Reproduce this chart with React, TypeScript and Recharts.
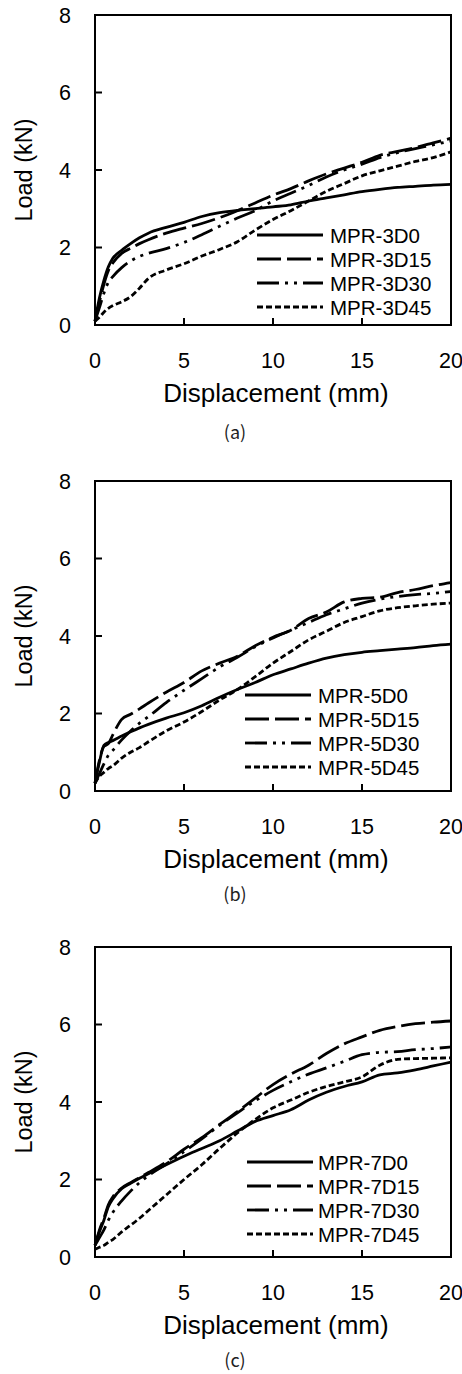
import { LineChart, Line, XAxis, YAxis, ReferenceArea, Legend } from 'recharts';

// displacement grid (mm) shared by every curve
const DISP = [0, 0.25, 0.5, 0.75, 1, 1.5, 2, 2.5, 3, 4, 5, 6, 7, 8, 9, 10, 11, 12, 13, 14, 15, 16, 17, 18, 19, 20];
const X_TICKS = [0, 5, 10, 15, 20];
const Y_TICKS = [0, 2, 4, 6, 8];

// loads (kN)
const LOAD_3D0 = [0.1, 0.7, 1.15, 1.5, 1.72, 1.93, 2.1, 2.25, 2.37, 2.52, 2.65, 2.8, 2.9, 2.96, 3.0, 3.05, 3.1, 3.2, 3.28, 3.36, 3.44, 3.5, 3.55, 3.58, 3.61, 3.63];
const LOAD_3D15 = [0.1, 0.6, 1.05, 1.4, 1.6, 1.85, 1.98, 2.1, 2.2, 2.37, 2.5, 2.62, 2.77, 2.95, 3.15, 3.35, 3.52, 3.72, 3.9, 4.05, 4.2, 4.38, 4.48, 4.58, 4.7, 4.82];
const LOAD_3D30 = [0.1, 0.45, 0.82, 1.1, 1.25, 1.48, 1.65, 1.77, 1.85, 1.97, 2.13, 2.33, 2.55, 2.76, 2.95, 3.2, 3.4, 3.6, 3.82, 4.0, 4.15, 4.32, 4.45, 4.55, 4.65, 4.75];
const LOAD_3D45 = [0.1, 0.2, 0.33, 0.43, 0.5, 0.6, 0.73, 0.95, 1.2, 1.42, 1.58, 1.78, 1.95, 2.15, 2.45, 2.72, 2.95, 3.2, 3.45, 3.65, 3.85, 3.98, 4.1, 4.22, 4.32, 4.47];

const LOAD_5D0 = [0.2, 0.75, 1.18, 1.25, 1.3, 1.42, 1.53, 1.63, 1.72, 1.88, 2.02, 2.2, 2.42, 2.62, 2.8, 3.0, 3.15, 3.3, 3.43, 3.52, 3.58, 3.62, 3.66, 3.7, 3.75, 3.79];
const LOAD_5D15 = [0.2, 0.8, 1.15, 1.22, 1.45, 1.85, 1.98, 2.12, 2.27, 2.55, 2.8, 3.1, 3.3, 3.48, 3.75, 3.97, 4.15, 4.45, 4.62, 4.88, 4.97, 5.0, 5.12, 5.2, 5.3, 5.38];
const LOAD_5D30 = [0.2, 0.45, 0.7, 0.92, 1.05, 1.32, 1.55, 1.75, 1.92, 2.28, 2.6, 2.9, 3.2, 3.45, 3.72, 3.95, 4.15, 4.35, 4.55, 4.7, 4.85, 4.95, 5.02, 5.07, 5.1, 5.15];
const LOAD_5D45 = [0.2, 0.38, 0.48, 0.58, 0.65, 0.85, 1.0, 1.12, 1.27, 1.55, 1.78, 2.05, 2.35, 2.62, 2.95, 3.3, 3.6, 3.9, 4.12, 4.35, 4.5, 4.65, 4.73, 4.78, 4.82, 4.85];

const LOAD_7D0 = [0.3, 0.65, 0.95, 1.3, 1.5, 1.76, 1.9, 2.03, 2.15, 2.38, 2.6, 2.8, 3.0, 3.25, 3.5, 3.65, 3.8, 4.05, 4.25, 4.4, 4.52, 4.7, 4.75, 4.83, 4.93, 5.03];
const LOAD_7D15 = [0.3, 0.7, 1.0, 1.35, 1.55, 1.78, 1.92, 2.05, 2.18, 2.45, 2.78, 3.08, 3.42, 3.75, 4.1, 4.45, 4.72, 4.95, 5.25, 5.5, 5.68, 5.85, 5.95, 6.02, 6.06, 6.09];
const LOAD_7D30 = [0.3, 0.5, 0.7, 0.95, 1.15, 1.45, 1.7, 1.92, 2.1, 2.4, 2.72, 3.05, 3.4, 3.72, 4.03, 4.3, 4.52, 4.72, 4.88, 5.05, 5.22, 5.28, 5.3, 5.35, 5.38, 5.42];
const LOAD_7D45 = [0.2, 0.25, 0.3, 0.38, 0.45, 0.65, 0.82, 1.0, 1.2, 1.6, 2.0, 2.38, 2.8, 3.2, 3.55, 3.85, 4.05, 4.25, 4.4, 4.52, 4.65, 4.95, 5.1, 5.12, 5.13, 5.14];

const SERIES_A = ['MPR-3D0', 'MPR-3D15', 'MPR-3D30', 'MPR-3D45'];
const SERIES_B = ['MPR-5D0', 'MPR-5D15', 'MPR-5D30', 'MPR-5D45'];
const SERIES_C = ['MPR-7D0', 'MPR-7D15', 'MPR-7D30', 'MPR-7D45'];

// solid, long dash, dash-dot-dot, short dash
const DASHES = ['0', '24 6', '22 6 3 6 3 6', '6 3'];

const FONT = '"Liberation Sans", Arial, sans-serif';
const W = 462;
const H = 458;
const PLOT_TOP = 15;
const PLOT_BOTTOM = 325;
const PLOT_LEFT = 95;
const PLOT_RIGHT = 451;
const LINE_W = 2.8;

function buildRows(loads: number[][]) {
  return DISP.map((d, i) => ({ d, s0: loads[0][i], s1: loads[1][i], s2: loads[2][i], s3: loads[3][i] }));
}

interface PanelProps {
  top: number;
  names: string[];
  loads: number[][];
  caption: string;
  captionDy: number;
  legendX: number;
  legendY: number;
  textX: number;
}

function LegendBox({ names, textX }: { names: string[]; textX: number }) {
  return (
    <svg width={200} height={100} style={{ display: 'block' }}>
      {names.map((n, i) => (
        <g key={n}>
          <line x1={0} x2={66} y1={12 + i * 24} y2={12 + i * 24} stroke="#000" strokeWidth={LINE_W} strokeDasharray={DASHES[i]} />
          <text x={textX} y={12 + i * 24 + 7.5} fontSize={20.5} fontFamily={FONT} fill="#000">{n}</text>
        </g>
      ))}
    </svg>
  );
}

function Panel({ top, names, loads, caption, captionDy, legendX, legendY, textX }: PanelProps) {
  const rows = buildRows(loads);
  const midX = (PLOT_LEFT + PLOT_RIGHT) / 2 + 3;
  return (
    <div style={{ position: 'absolute', left: 0, top }}>
      <LineChart width={W} height={H} data={rows} margin={{ top: PLOT_TOP, right: W - PLOT_RIGHT, bottom: 0, left: 0 }}>
        <XAxis
          dataKey="d"
          type="number"
          domain={[0, 20]}
          ticks={X_TICKS}
          height={H - PLOT_BOTTOM}
          axisLine={{ stroke: '#000', strokeWidth: 2 }}
          tickLine={{ stroke: '#000', strokeWidth: 2 }}
          tickSize={-7}
          tickMargin={35}
          tick={{ fill: '#000', fontSize: 21.5, fontFamily: FONT }}
          label={{
            content: () => (
              <g>
                <text x={midX} y={PLOT_BOTTOM + 77} textAnchor="middle" fontSize={26} fontFamily={FONT} fill="#000">
                  Displacement (mm)
                </text>
                <text x={235} y={PLOT_BOTTOM + captionDy} textAnchor="middle" fontSize={18} fontFamily='"Noto Sans CJK KR", "Noto Sans", sans-serif' fill="#222">
                  {caption}
                </text>
              </g>
            ),
          }}
        />
        <YAxis
          type="number"
          domain={[0, 8]}
          ticks={Y_TICKS}
          width={PLOT_LEFT}
          axisLine={{ stroke: '#000', strokeWidth: 2 }}
          tickLine={{ stroke: '#000', strokeWidth: 2 }}
          tickSize={-7}
          tickMargin={31}
          tick={{ fill: '#000', fontSize: 21.5, fontFamily: FONT }}
          label={{
            content: () => (
              <text
                x={32}
                y={(PLOT_TOP + PLOT_BOTTOM) / 2}
                transform={`rotate(-90 32 ${(PLOT_TOP + PLOT_BOTTOM) / 2})`}
                textAnchor="middle"
                fontSize={23.5}
                fontFamily={FONT}
                fill="#000"
              >
                Load (kN)
              </text>
            ),
          }}
        />
        <ReferenceArea x1={0} x2={20} y1={0} y2={8} fill="none" stroke="#000" strokeWidth={2} />
        {['s0', 's1', 's2', 's3'].map((k, i) => (
          <Line
            key={k}
            dataKey={k}
            name={names[i]}
            type="monotone"
            stroke="#000"
            strokeWidth={LINE_W}
            strokeDasharray={DASHES[i]}
            dot={false}
            isAnimationActive={false}
          />
        ))}
        <Legend
          layout="vertical"
          align="center"
          verticalAlign="middle"
          content={() => <LegendBox names={names} textX={textX} />}
          wrapperStyle={{ left: legendX, top: PLOT_TOP + legendY - 12, width: 200, height: 100 }}
        />
      </LineChart>
    </div>
  );
}

export default function App() {
  return (
    <div style={{ position: 'absolute', left: 0, top: 0, width: W, height: 1374, overflow: 'hidden', background: '#fff' }}>
      <Panel top={0} names={SERIES_A} loads={[LOAD_3D0, LOAD_3D15, LOAD_3D30, LOAD_3D45]} caption="(a)" captionDy={114} legendX={257} legendY={220} textX={73} />
      <Panel top={466} names={SERIES_B} loads={[LOAD_5D0, LOAD_5D15, LOAD_5D30, LOAD_5D45]} caption="(b)" captionDy={110} legendX={245} legendY={214} textX={73} />
      <Panel top={932} names={SERIES_C} loads={[LOAD_7D0, LOAD_7D15, LOAD_7D30, LOAD_7D45]} caption="(c)" captionDy={110} legendX={247} legendY={215} textX={71} />
    </div>
  );
}
